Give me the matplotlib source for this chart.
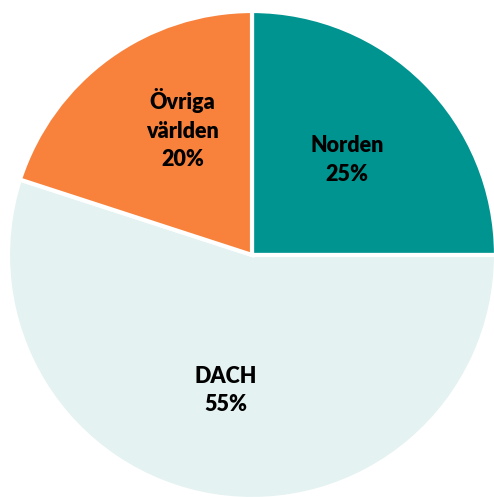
import matplotlib.pyplot as plt

regions = ["Norden", "DACH", "Övriga\nvärlden"]
shares = [25, 55, 20]
colors = ["#009490", "#E4F2F1", "#F8823C"]
# label anchor positions (fraction of radius), placed by eye
label_pos = [(0.39, 0.39), (-0.107, -0.555), (-0.285, 0.515)]

fig = plt.figure(figsize=(4.94, 4.97), dpi=100)
ax = fig.add_axes([8/494, -2/497, 488/494, 488/497])
ax.pie(shares, colors=colors, startangle=90, counterclock=False, radius=1,
       wedgeprops=dict(edgecolor="white", linewidth=3))
for name, val, (x, y) in zip(regions, shares, label_pos):
    ax.text(x, y, f"{name}\n{val}%", ha="center", va="center", fontsize=15.5,
            fontweight="heavy", family="Lato", linespacing=1.45)
ax.set_xlim(-1, 1)
ax.set_ylim(-1, 1)
ax.set_aspect("equal")
ax.axis("off")
fig.savefig("out.png", dpi=100)
